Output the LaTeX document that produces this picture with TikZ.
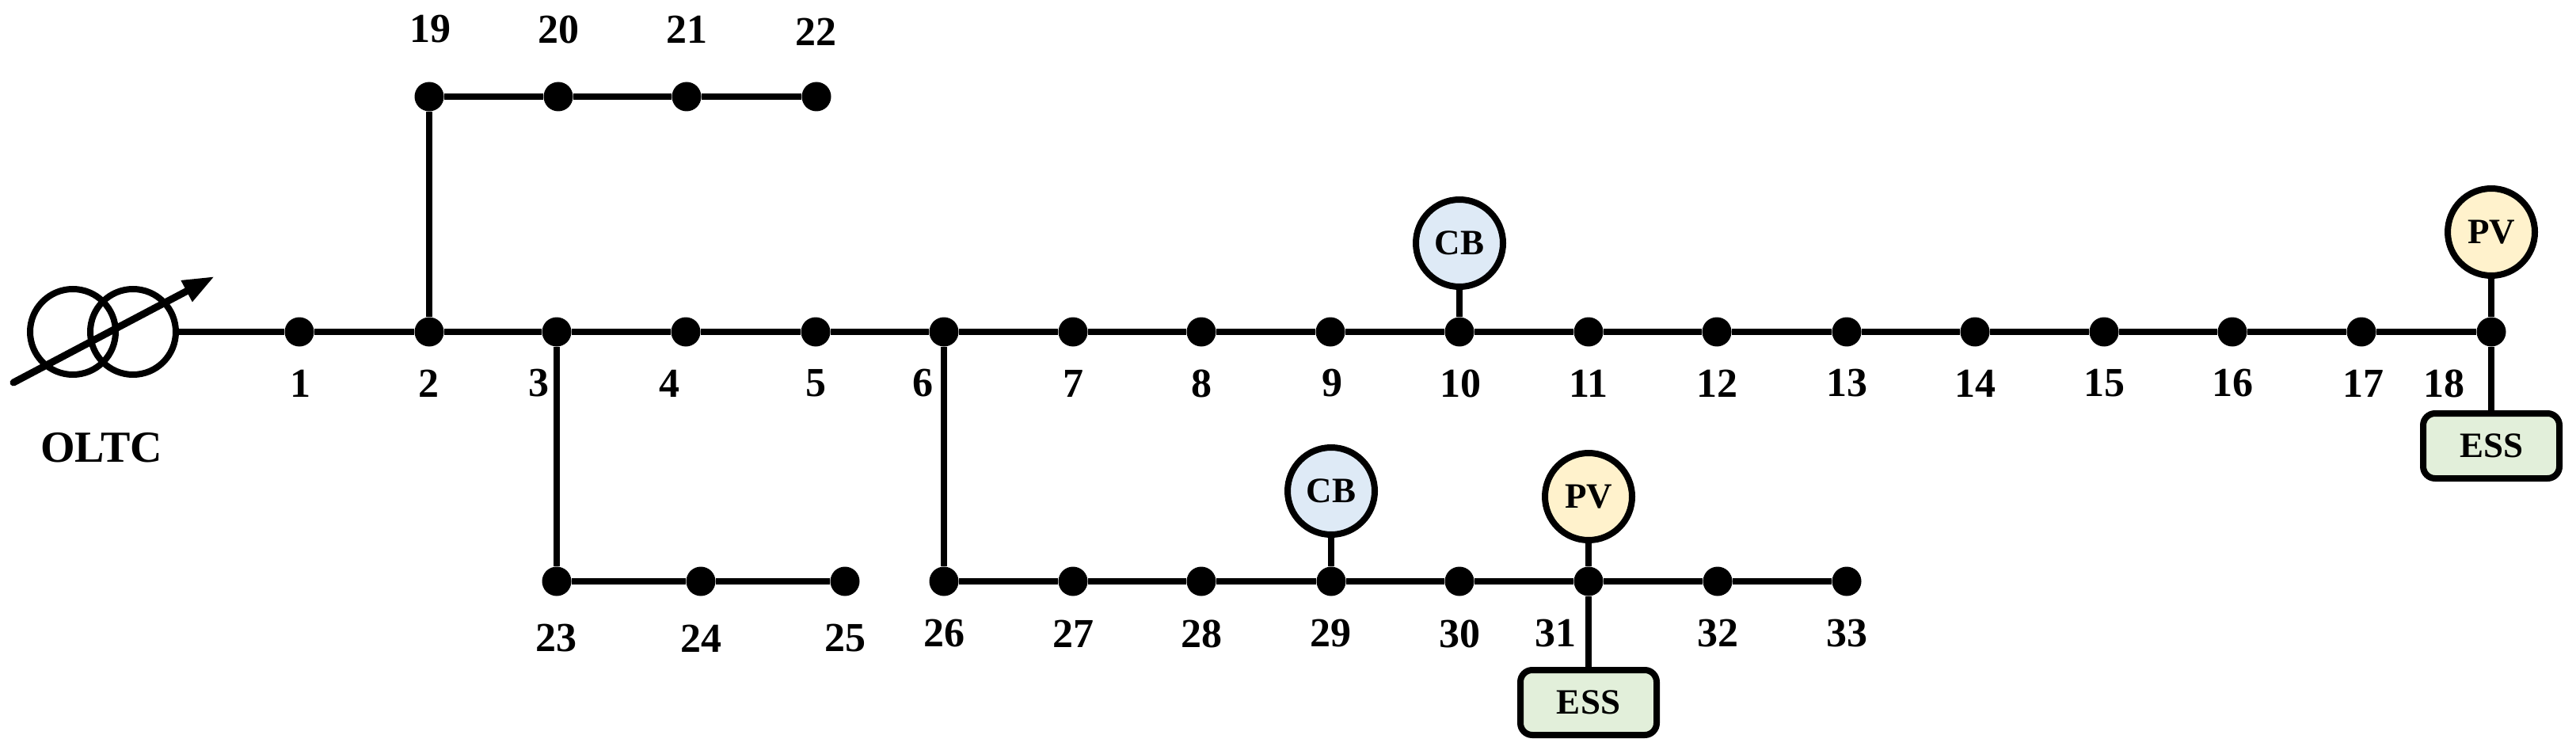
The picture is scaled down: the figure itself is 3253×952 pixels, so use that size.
\documentclass[tikz,border=0pt]{standalone}
\usepackage{fontspec}
\setmainfont{Liberation Serif}
\usetikzlibrary{arrows.meta}
\definecolor{pvfill}{HTML}{FFF2CC}
\definecolor{cbfill}{HTML}{DEEAF6}
\definecolor{essfill}{HTML}{E2EFDA}
\tikzset{
  bus/.style={circle,fill=black,draw=none,inner sep=0pt,minimum size=37pt},
  lbl/.style={inner sep=0pt,font=\fontsize{52}{60}\selectfont\bfseries},
  devlbl/.style={font=\fontsize{45}{55}\selectfont\bfseries},
  pvnode/.style={circle,draw=black,line width=8pt,fill=pvfill,inner sep=0pt,minimum size=110pt,devlbl},
  cbnode/.style={circle,draw=black,line width=8pt,fill=cbfill,inner sep=0pt,minimum size=110pt,devlbl},
  essnode/.style={rectangle,rounded corners=15pt,draw=black,line width=8pt,fill=essfill,inner sep=0pt,minimum width=172pt,minimum height=82pt,devlbl},
  wire/.style={line width=8pt,draw=black},
  xf/.style={circle,draw=black,line width=8pt,fill=none,inner sep=0pt,minimum size=108pt}
}
\begin{document}
\begin{tikzpicture}[x=1pt,y=-1pt]
\useasboundingbox (0,0) rectangle (3253,952);
% buses: name/x/y
\foreach \n/\x/\y in {1/378/419,2/542/419,3/703/419,4/866/419,5/1030/419,6/1192/419,7/1355/419,8/1517/419,9/1680/419,10/1843/419,11/2006/419,12/2168/419,13/2332/419,14/2494/419,15/2657/419,16/2819/419,17/2982/419,18/3146/419,
19/542/122,20/705/122,21/867/122,22/1031/122,
23/703/734,24/885/734,25/1067/734,
26/1192/734,27/1355/734,28/1517/734,29/1681/734,30/1843/734,31/2006/734,32/2169/734,33/2332/734}
  \node[bus] (b\n) at (\x,\y) {};
% bus labels
\foreach \n/\x/\y in {1/379/484,2/541/484,3/680/484,4/845/484,5/1030/484,6/1165/484,7/1355/484,8/1517/484,9/1682/484,10/1844/484,11/2006/484,12/2168/484,13/2332/484,14/2494/484,15/2657/484,16/2819/484,17/2984/484,18/3086/484,
19/543/37,20/705/37,21/867/37,22/1030/40,
23/702/806,24/885/806,25/1067/806,
26/1192/800,27/1355/800,28/1517/800,29/1680/800,30/1843/800,31/1964/800,32/2169/800,33/2332/800}
  \node[lbl] (l\n) at (\x,\y) {\n};
% transformer
\node[xf] (t1) at (92,419) {};
\node[xf] (t2) at (168,419) {};
\coordinate (as) at (17,483);
\coordinate (ae) at (271,349);
\draw[line width=9pt,line cap=round,-{Triangle[length=40pt,width=28pt]}] (as) -- (ae);
\node[lbl,font=\fontsize{56}{60}\selectfont\bfseries] (oltc) at (128,565) {OLTC};
% main feeder
\draw[wire] (t2) -- (b1);
\foreach \a/\b in {1/2,2/3,3/4,4/5,5/6,6/7,7/8,8/9,9/10,10/11,11/12,12/13,13/14,14/15,15/16,16/17,17/18,
19/20,20/21,21/22,2/19,3/23,23/24,24/25,6/26,26/27,27/28,28/29,29/30,30/31,31/32,32/33}
  \draw[wire] (b\a) -- (b\b);
% devices
\node[cbnode] (cb10) at (1843,307) {CB};
\node[pvnode] (pv18) at (3146,293) {PV};
\node[essnode] (ess18) at (3146,563) {ESS};
\node[cbnode] (cb29) at (1681,620) {CB};
\node[pvnode] (pv31) at (2006,627) {PV};
\node[essnode] (ess31) at (2006,887) {ESS};
\draw[wire] (cb10) -- (b10);
\draw[wire] (pv18) -- (b18);
\draw[wire] (b18) -- (ess18);
\draw[wire] (cb29) -- (b29);
\draw[wire] (pv31) -- (b31);
\draw[wire] (b31) -- (ess31);
\end{tikzpicture}
\end{document}
